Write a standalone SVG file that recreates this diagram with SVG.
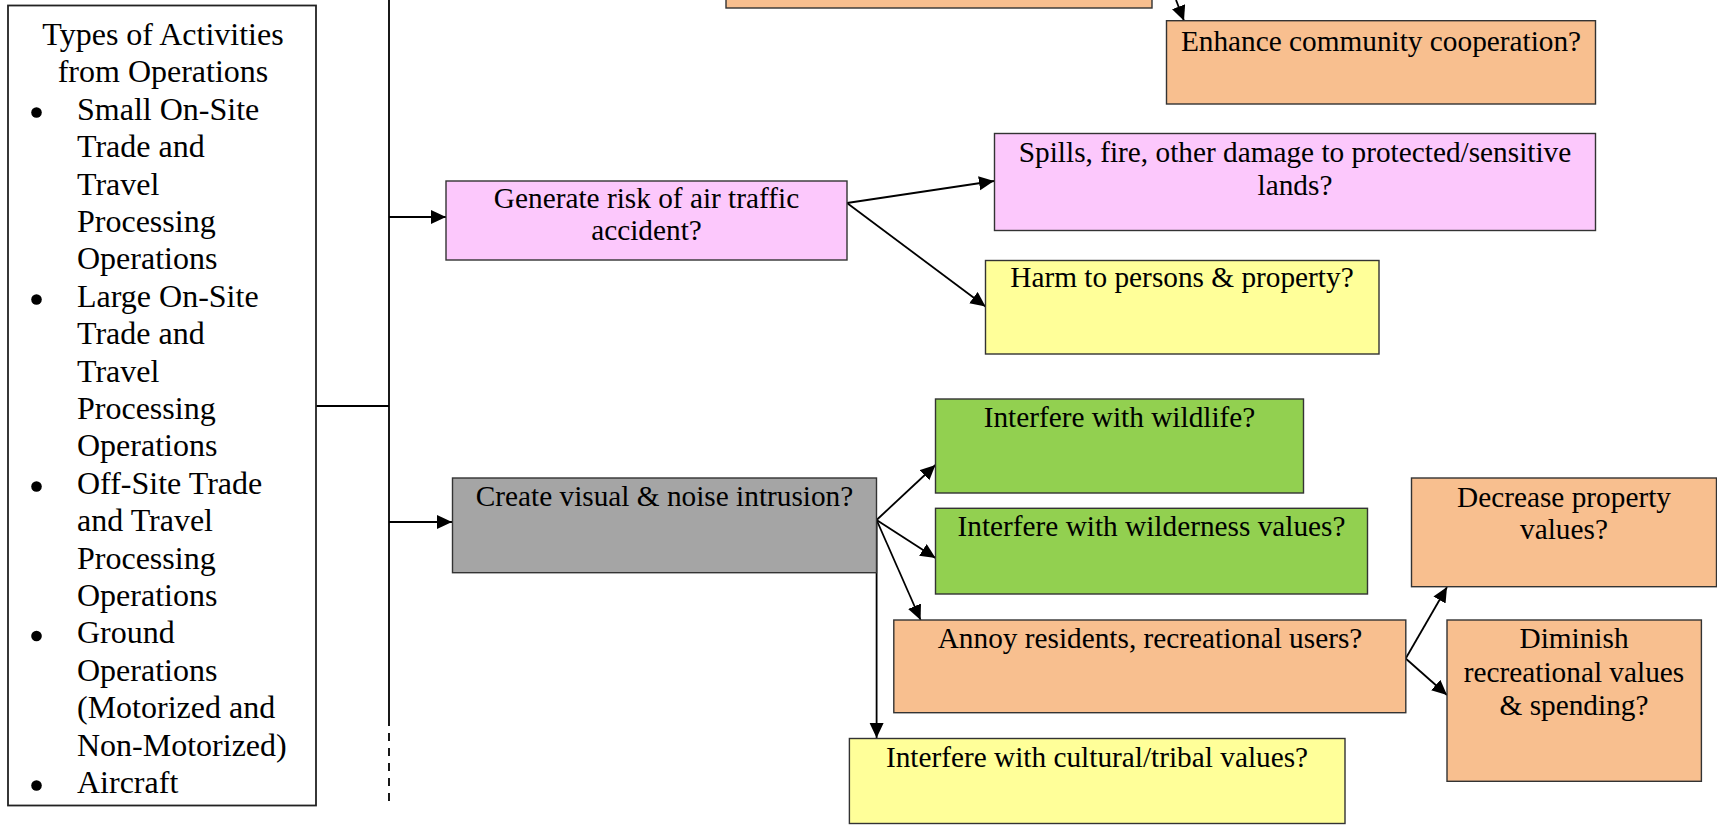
<svg xmlns="http://www.w3.org/2000/svg" width="1717" height="825" viewBox="0 0 1717 825">
<defs>
<marker id="ah" markerUnits="userSpaceOnUse" markerWidth="16" markerHeight="15" refX="15" refY="7" orient="auto">
<path d="M0,0 L15,7 L0,14 z" fill="#000"/>
</marker>
<style>
.box{stroke:#333;stroke-width:1.4}
.or{fill:#F8BF8F}
.pk{fill:#FCC8FC}
.ye{fill:#FFFF99}
.gr{fill:#92D050}
.gy{fill:#A5A5A5}
text{font-family:"Liberation Serif","Times New Roman",serif;font-size:29.3px;fill:#000}
.c{text-anchor:middle}
.lt{font-size:32px}
.ln{stroke:#000;stroke-width:1.8;fill:none}
.ar{stroke:#000;stroke-width:1.8;fill:none;marker-end:url(#ah)}
</style>
</defs>
<rect width="1717" height="825" fill="#fff"/>

<g id="connectors">
<line class="ln" x1="389" y1="0" x2="389" y2="718"/>
<line class="ln" x1="389" y1="718" x2="389" y2="806" stroke-dasharray="8,7"/>
<line class="ln" x1="316" y1="406" x2="389" y2="406"/>
<line class="ar" x1="389" y1="217" x2="446" y2="217"/>
<line class="ar" x1="389" y1="522" x2="452" y2="522"/>
<line class="ar" x1="1176" y1="0" x2="1184" y2="20.7"/>
<line class="ar" x1="847" y1="203" x2="994" y2="181"/>
<line class="ar" x1="847" y1="203" x2="985.5" y2="306.5"/>
<line class="ar" x1="876.6" y1="520" x2="935.5" y2="465"/>
<line class="ar" x1="876.6" y1="520" x2="935.5" y2="558"/>
<line class="ar" x1="876.6" y1="520" x2="920.6" y2="620"/>
<line class="ar" x1="876.6" y1="520" x2="876.6" y2="738"/>
<line class="ar" x1="1405.7" y1="658.5" x2="1447" y2="587"/>
<line class="ar" x1="1405.7" y1="658.5" x2="1447" y2="695"/>
</g>

<g id="activities">
<rect x="8" y="5.5" width="308" height="800" fill="#fff" stroke="#222" stroke-width="1.8"/>
<text class="lt c" x="163" y="45">Types of Activities</text>
<text class="lt c" x="163" y="82.4">from Operations</text>
<g>
<circle cx="36.5" cy="112.5" r="5.3"/>
<text class="lt" x="77" y="119.8">Small On-Site</text>
<text class="lt" x="77" y="157.2">Trade and</text>
<text class="lt" x="77" y="194.6">Travel</text>
<text class="lt" x="77" y="232">Processing</text>
<text class="lt" x="77" y="269.4">Operations</text>
<circle cx="36.5" cy="299.5" r="5.3"/>
<text class="lt" x="77" y="306.8">Large On-Site</text>
<text class="lt" x="77" y="344.2">Trade and</text>
<text class="lt" x="77" y="381.6">Travel</text>
<text class="lt" x="77" y="419">Processing</text>
<text class="lt" x="77" y="456.4">Operations</text>
<circle cx="36.5" cy="486.5" r="5.3"/>
<text class="lt" x="77" y="493.8">Off-Site Trade</text>
<text class="lt" x="77" y="531.2">and Travel</text>
<text class="lt" x="77" y="568.6">Processing</text>
<text class="lt" x="77" y="606">Operations</text>
<circle cx="36.5" cy="636" r="5.3"/>
<text class="lt" x="77" y="643.4">Ground</text>
<text class="lt" x="77" y="680.8">Operations</text>
<text class="lt" x="77" y="718.2">(Motorized and</text>
<text class="lt" x="77" y="755.6">Non-Motorized)</text>
<circle cx="36.5" cy="785.5" r="5.3"/>
<text class="lt" x="77" y="793">Aircraft</text>
</g>
</g>

<g id="top-box">
<rect class="box or" x="726" y="-5" width="426" height="13"/>
</g>

<g id="enhance">
<rect class="box or" x="1166.5" y="20.7" width="429" height="83.3"/>
<text class="c" x="1381" y="50.7">Enhance community cooperation?</text>
</g>

<g id="generate">
<rect class="box pk" x="446" y="181" width="401" height="79"/>
<text class="c" x="646.5" y="208.3">Generate risk of air traffic</text>
<text class="c" x="646.5" y="240">accident?</text>
</g>

<g id="spills">
<rect class="box pk" x="994.5" y="133.5" width="601" height="97"/>
<text class="c" x="1295" y="161.7">Spills, fire, other damage to protected/sensitive</text>
<text class="c" x="1295" y="195">lands?</text>
</g>

<g id="harm">
<rect class="box ye" x="985.5" y="260.5" width="393.5" height="93.5"/>
<text class="c" x="1182" y="287.3">Harm to persons &amp; property?</text>
</g>

<g id="create">
<rect class="box gy" x="452.5" y="478" width="424" height="94.7"/>
<text class="c" x="664.5" y="506">Create visual &amp; noise intrusion?</text>
</g>

<g id="wildlife">
<rect class="box gr" x="935.5" y="399" width="368" height="94"/>
<text class="c" x="1119.5" y="426.7">Interfere with wildlife?</text>
</g>

<g id="wilderness">
<rect class="box gr" x="935.5" y="508.3" width="432" height="85.7"/>
<text class="c" x="1151.5" y="536">Interfere with wilderness values?</text>
</g>

<g id="annoy">
<rect class="box or" x="893.8" y="620" width="512" height="92.7"/>
<text class="c" x="1150" y="648.3">Annoy residents, recreational users?</text>
</g>

<g id="cultural">
<rect class="box ye" x="849.4" y="738.5" width="495.6" height="85"/>
<text class="c" x="1097" y="767.3">Interfere with cultural/tribal values?</text>
</g>

<g id="decrease">
<rect class="box or" x="1411.5" y="478" width="305" height="108.7"/>
<text class="c" x="1564" y="506.7">Decrease property</text>
<text class="c" x="1564" y="539.3">values?</text>
</g>

<g id="diminish">
<rect class="box or" x="1447" y="620" width="254.4" height="161.3"/>
<text class="c" x="1574" y="648.3">Diminish</text>
<text class="c" x="1574" y="681.7">recreational values</text>
<text class="c" x="1574" y="715">&amp; spending?</text>
</g>
</svg>
